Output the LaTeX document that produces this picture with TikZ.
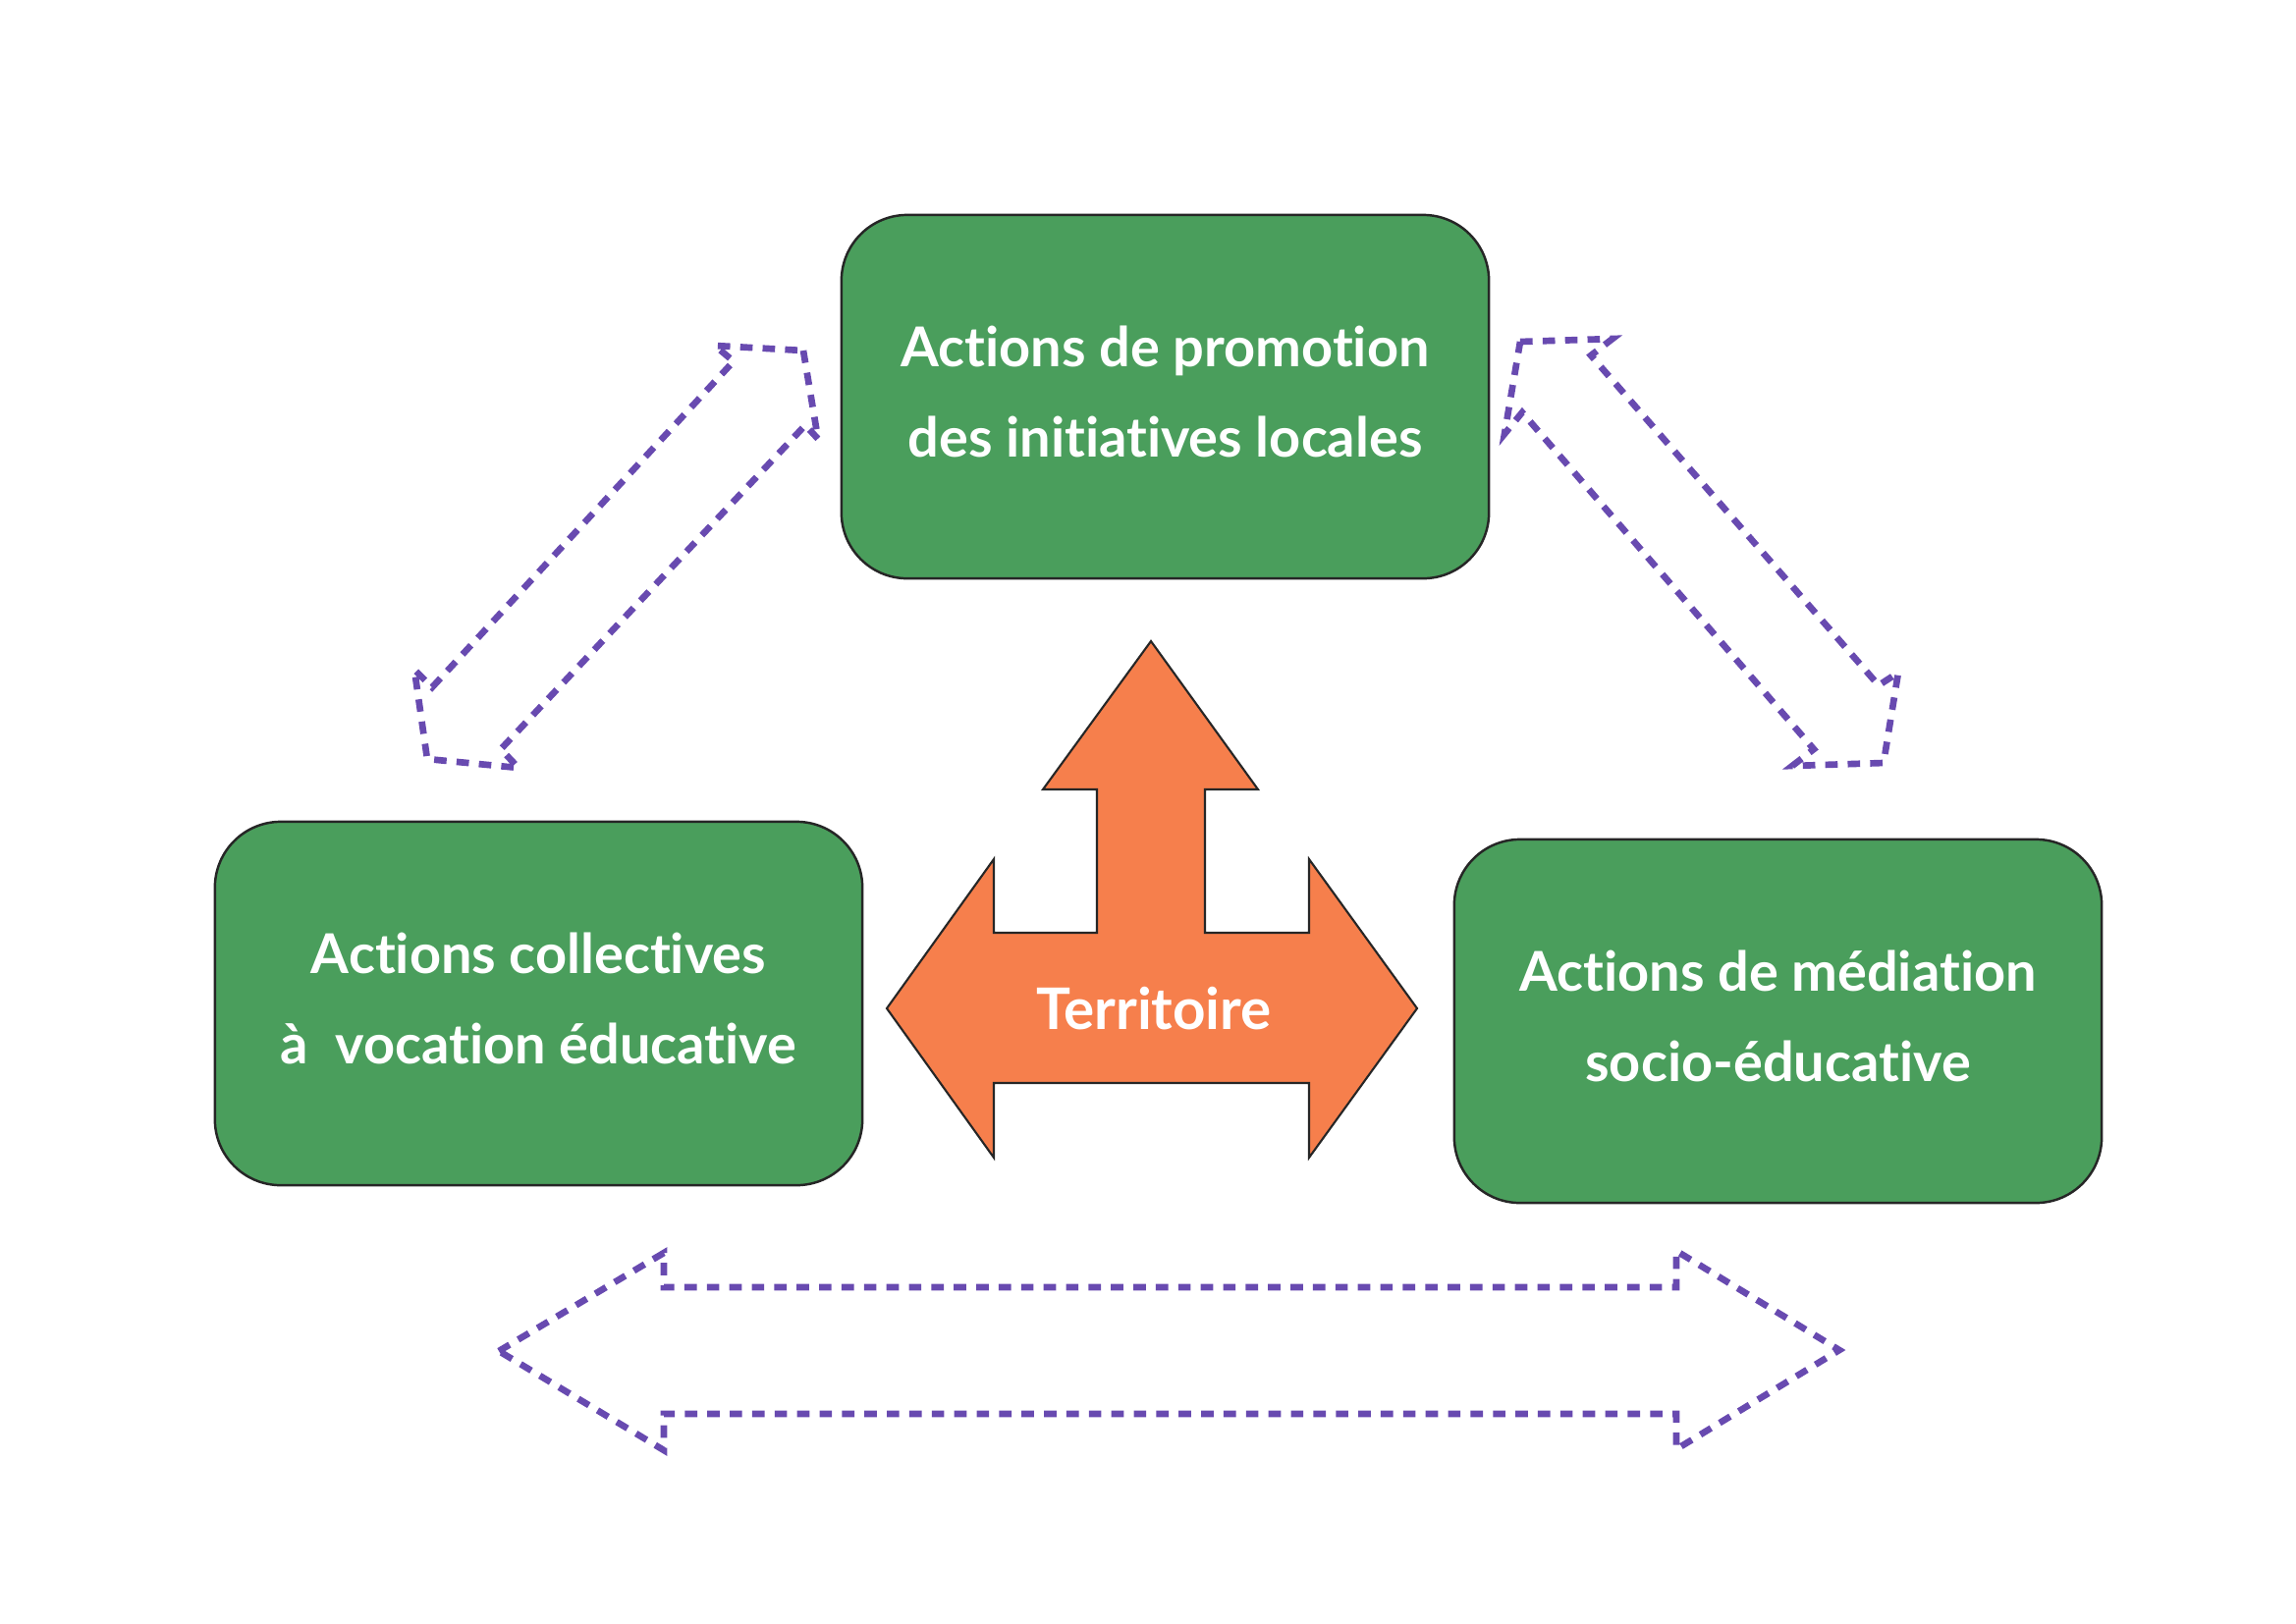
\documentclass[tikz,border=0pt]{standalone}
\usepackage{fontspec}
\setmainfont{Lato}[Ligatures=NoCommon]
\definecolor{boxgreen}{RGB}{74,158,92}
\definecolor{arrowpurple}{RGB}{104,74,176}
\definecolor{terrorange}{RGB}{246,127,76}
\begin{document}
\begin{tikzpicture}[x=0.01cm,y=-0.01cm,
  actionbox/.style={draw=black!85, line width=0.7pt, fill=boxgreen, rounded corners=0.67cm,
    minimum width=6.59cm, minimum height=3.70cm, inner sep=0pt, text=white,
    font=\bfseries\fontsize{15.9}{26}\selectfont, align=center},
  dasharrow/.style={draw=arrowpurple, line width=1.9pt, dash pattern=on 3.6pt off 2.9pt, line join=miter},
  terrshape/.style={draw=black!85, line width=0.6pt, fill=terrorange, line join=miter},
  terrlabel/.style={text=white, font=\bfseries\fontsize{16.6}{18}\selectfont}]
\useasboundingbox (0,0) rectangle (2338,1653);

% green boxes
\node[actionbox] (promo) at (1186.5,404) {Actions de promotion\\des initiatives locales\rule[-3pt]{0pt}{0pt}};
\node[actionbox] (coll) at (548.5,1022) {Actions collectives\\à~ vocation éducative\rule[-3pt]{0pt}{0pt}};
\node[actionbox] (medi) at (1810.5,1040) {Actions de médiation\\socio-éducative\rule[-3pt]{0pt}{0pt}};

% central Territoire arrow
\draw[terrshape] (1172,653) -- (1281,804) -- (1227,804) -- (1227,950) -- (1333,950) -- (1333,875)
  -- (1443,1027) -- (1333,1179) -- (1333,1103) -- (1012,1103) -- (1012,1179) -- (903,1027)
  -- (1012,875) -- (1012,950) -- (1117,950) -- (1117,804) -- (1062,804) -- cycle;
\node[terrlabel] (terr) at (1175,1027) {Territoire};

% left diagonal dashed double arrow
\draw[dasharrow] (818,357) -- (833,447) -- (820,433) -- (510,763) -- (528,782) -- (435,773)
  -- (422,682) -- (440,700) -- (747,368) -- (728,352) -- cycle;

% right diagonal dashed double arrow
\draw[dasharrow] (1548,348) -- (1642,345) -- (1620,362) -- (1913,698) -- (1933,685) -- (1918,777)
  -- (1825,780) -- (1847,763) -- (1550,420) -- (1532,442) -- cycle;

% bottom horizontal dashed double arrow
\draw[dasharrow] (508,1376) -- (676,1276) -- (676,1311) -- (1707,1311) -- (1707,1274) -- (1873,1375)
  -- (1707,1476) -- (1707,1440) -- (676,1440) -- (676,1477) -- cycle;
\end{tikzpicture}
\end{document}
